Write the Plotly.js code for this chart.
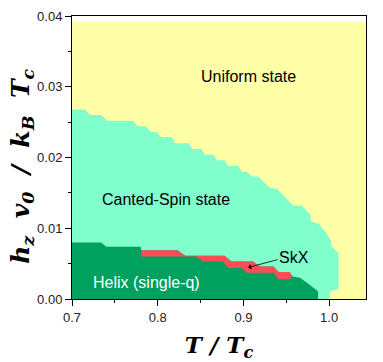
<!DOCTYPE html>
<html>
<head>
<meta charset="utf-8">
<script src="https://cdn.plot.ly/plotly-3.0.1.min.js"></script>
<style>
  html, body { margin: 0; padding: 0; background: #fff; }
  #chart { width: 383px; height: 362px; }
</style>
</head>
<body>
<div id="chart"></div>
<script>
// phase boundaries: T/Tc vs hz v0 / kB Tc
const uniformT = [0.700, 0.700, 1.043, 1.043];
const uniformH = [0.0, 0.0392, 0.0392, 0.0];

const cantedT = [0.700, 0.700, 0.715, 0.721, 0.734, 0.741, 0.771, 0.777, 0.786, 0.792, 0.798, 0.804,
                 0.816, 0.820, 0.836, 0.841, 0.851, 0.855, 0.865, 0.869, 0.878, 0.882, 0.894, 0.898,
                 0.904, 0.910, 0.917, 0.931, 0.939, 0.958, 0.968, 0.978, 0.979, 0.988, 0.996, 1.002,
                 1.003, 1.011, 1.011, 1.001, 1.000];
const cantedH = [0.0, 0.0268, 0.0268, 0.0260, 0.0260, 0.0252, 0.0252, 0.0244, 0.0244, 0.0236, 0.0236, 0.0229,
                 0.0229, 0.0220, 0.0220, 0.0212, 0.0212, 0.0204, 0.0204, 0.0196, 0.0196, 0.0188, 0.0188, 0.0180,
                 0.0180, 0.0173, 0.0173, 0.0157, 0.0156, 0.0132, 0.0132, 0.0119, 0.0110, 0.0106, 0.0094, 0.0083,
                 0.0074, 0.0065, 0.0014, 0.0011, 0.0];

const helixLeftT = [0.700, 0.700, 0.734, 0.740, 0.780];
const helixLeftH = [0.0, 0.0080, 0.0080, 0.0074, 0.0074];
const helixRightT = [0.960, 0.966, 0.974, 0.982, 0.987, 0.987];
const helixRightH = [0.0031, 0.0030, 0.0023, 0.0016, 0.0011, 0.0];

const skxTopT = [0.781, 0.823, 0.832, 0.878, 0.886, 0.911, 0.919, 0.935, 0.941, 0.954, 0.957];
const skxTopH = [0.0069, 0.0069, 0.0061, 0.0061, 0.0053, 0.0053, 0.0046, 0.0046, 0.0038, 0.0038, 0.0032];
const skxBotT = [0.781, 0.845, 0.853, 0.876, 0.882, 0.898, 0.904, 0.935, 0.941, 0.954];
const skxBotH = [0.0060, 0.0060, 0.0053, 0.0053, 0.0044, 0.0044, 0.0037, 0.0037, 0.0028, 0.0028];

const labels = [
    { T: 0.906, h: 0.0314, text: 'Uniform state', color: '#000' },
    { T: 0.810, h: 0.0140, text: 'Canted-Spin state', color: '#000' },
    { T: 0.787, h: 0.0024, text: 'Helix (single-q)', color: '#fff' },
    { T: 0.959, h: 0.0059, text: 'SkX', color: '#000' }
];

const region = (x, y, color) => ({
    type: 'scatter',
    mode: 'lines',
    x, y,
    fill: 'toself',
    fillcolor: color,
    line: { width: 0, color: color },
    hoverinfo: 'skip',
    showlegend: false
});

const traces = [
    region(uniformT, uniformH, '#FFFFA8'),
    region(cantedT, cantedH, '#80FFCC'),
    region([...helixLeftT, ...skxTopT, ...helixRightT], [...helixLeftH, ...skxTopH, ...helixRightH], '#00A05F'),
    region([...skxTopT, ...skxBotT.slice().reverse()], [...skxTopH, ...skxBotH.slice().reverse()], '#FF4D55')
];

const tickFont = { family: 'Liberation Sans, Arial, sans-serif', size: 13, color: '#222' };
const titleFont = { family: 'DejaVu Serif, serif', size: 23, color: '#000' };
const sp = '&nbsp;';

const annotations = labels.map(l => ({
    x: l.T, y: l.h, xref: 'x', yref: 'y',
    text: l.text,
    showarrow: false,
    font: { family: 'Liberation Sans, Arial, sans-serif', size: 16, color: l.color }
}));
annotations.push({
    x: 0.9056, y: 0.00446, xref: 'x', yref: 'y',
    ax: 0.9415, ay: 0.00562, axref: 'x', ayref: 'y',
    text: '',
    showarrow: true,
    arrowhead: 1, arrowsize: 1.2, arrowwidth: 0.8, arrowcolor: '#000'
});
// y axis title, placed by hand so it sits where the original does
annotations.push({
    x: -0.17, y: 0.467, xref: 'paper', yref: 'paper',
    xanchor: 'center', yanchor: 'middle',
    textangle: -90,
    showarrow: false,
    text: `<b><i>h<sub>z</sub>${sp}${sp}v<sub>0</sub>${sp}${sp}/${sp}${sp}k<sub>B</sub>${sp}${sp}T<sub>c</sub></i></b>`,
    font: { family: 'DejaVu Serif, serif', size: 25, color: '#000' }
});

Plotly.newPlot('chart', traces, {
    width: 383,
    height: 362,
    margin: { l: 72, r: 17, t: 16, b: 63 },
    paper_bgcolor: '#fff',
    plot_bgcolor: '#fff',
    showlegend: false,
    xaxis: {
        range: [0.7, 1.043],
        dtick: 0.1,
        tick0: 0.7,
        tickformat: '.1f',
        ticks: 'outside', ticklen: 6, tickwidth: 1, tickcolor: '#000',
        minor: { dtick: 0.05, ticks: 'outside', ticklen: 3, tickcolor: '#000', showgrid: false },
        showline: true, mirror: true, linecolor: '#000', linewidth: 1,
        showgrid: false, zeroline: false,
        tickfont: tickFont,
        title: { text: `<b><i>T${sp}/${sp}T<sub>c</sub></i></b>`, font: titleFont, standoff: 16 }
    },
    yaxis: {
        range: [0, 0.04],
        dtick: 0.01,
        tickformat: '.2f',
        ticks: 'outside', ticklen: 6, tickwidth: 1, tickcolor: '#000',
        minor: { dtick: 0.005, ticks: 'outside', ticklen: 3, tickcolor: '#000', showgrid: false },
        showline: true, mirror: true, linecolor: '#000', linewidth: 1,
        showgrid: false, zeroline: false,
        tickfont: tickFont
    },
    annotations
}, { displayModeBar: false, staticPlot: true });
</script>
</body>
</html>
